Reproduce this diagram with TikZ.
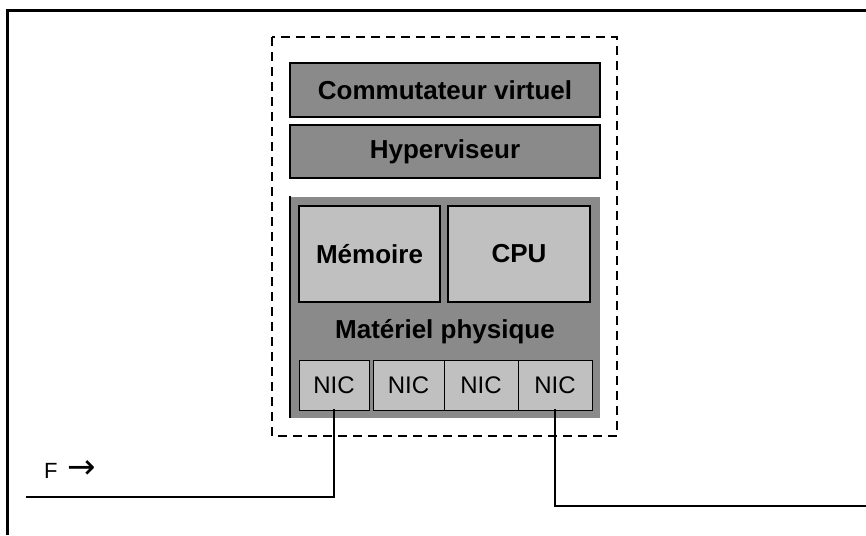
\documentclass[tikz,border=0pt]{standalone}
\usepackage{fontspec}
\setmainfont{Liberation Sans}
\newfontfamily\arrowfont{DejaVu Sans}
\usetikzlibrary{calc, arrows.meta}
\definecolor{layergray}{RGB}{138,138,138}
\definecolor{partgray}{RGB}{192,192,192}

\begin{document}
\begin{tikzpicture}[x=1pt,y=-1pt,
        layer/.style={draw=black,line width=1.2pt,fill=layergray,inner sep=0pt,
            font=\fontsize{26}{30}\selectfont\bfseries},
        part/.style={draw=black,line width=1.2pt,fill=partgray,inner sep=0pt,
            font=\fontsize{26}{30}\selectfont\bfseries},
        nic/.style={draw=black,line width=1pt,fill=partgray,inner sep=0pt,
            minimum height=50pt,font=\fontsize{24}{28}\selectfont},
        link/.style={line width=2.4pt,line cap=rect}]
    \useasboundingbox (0,0) rectangle (866,535);
    \draw[line width=3pt] (866,11)--(7,11)--(7,535);
    \draw[line width=2pt,dash pattern=on 9pt off 6pt] (272,37) rectangle (617,436);
    \node[layer,minimum width=310pt,minimum height=54pt] (commut) at (445,90) {Commutateur virtuel};
    \node[layer,minimum width=310pt,minimum height=53pt] (hyper) at (445,151.5) {Hyperviseur};
    \node[fill=layergray,minimum width=310pt,minimum height=221pt,inner sep=0pt] (materiel) at (445,307) {};
    \draw[line width=1.4pt] (materiel.north west)--(materiel.south west);
    \node[part,minimum width=141pt,minimum height=96pt] (mem) at (369.5,254) {Mémoire};
    \node[part,minimum width=142pt,minimum height=96pt] (cpu) at (519,254) {CPU};
    \node[font=\fontsize{26}{30}\selectfont\bfseries] (matlabel) at (445,332) {Matériel physique};
    \node[nic,minimum width=70pt] (nic1) at (334,385) {NIC};
    \node[nic,minimum width=71pt] (nic2) at (408.5,385) {NIC};
    \node[nic,minimum width=74pt] (nic3) at (481,385) {NIC};
    \node[nic,minimum width=74pt] (nic4) at (555,385) {NIC};
    \coordinate (wanL) at (27,497);
    \coordinate (wanR) at (866,506);
    \draw[link] (nic1.south) |- (wanL);
    \draw[link] (nic4.south) |- (wanR);
    \node[anchor=west,inner sep=0pt,font=\fontsize{22}{26}\selectfont] (flux) at (44,470) {F\hspace{10pt}{\arrowfont\fontsize{34}{38}\selectfont →}};
\end{tikzpicture}
\end{document}
